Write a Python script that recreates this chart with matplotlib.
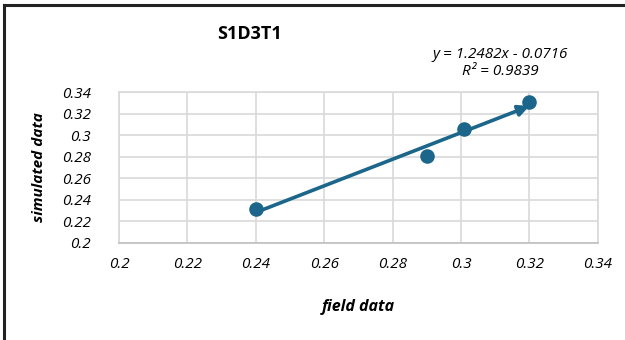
import numpy as np
import matplotlib
matplotlib.use("Agg")
import matplotlib.pyplot as plt
from matplotlib.lines import Line2D

# data
field_data = [0.24, 0.29, 0.301, 0.32]
simulated_data = [0.231, 0.281, 0.306, 0.331]
x_ticks = [0.2, 0.22, 0.24, 0.26, 0.28, 0.3, 0.32, 0.34]
y_ticks = [0.2, 0.22, 0.24, 0.26, 0.28, 0.3, 0.32, 0.34]
tick_labels = ["0.2", "0.22", "0.24", "0.26", "0.28", "0.3", "0.32", "0.34"]
eq_text = "y = 1.2482x - 0.0716\nR² = 0.9839"

blue = "#1b668a"
grid = "#d9d9d9"
font = "Open Sans"

fig = plt.figure(figsize=(6.25, 3.4), dpi=100)
ax = fig.add_axes([0.1904, 0.2862, 0.766, 0.4424])

ax.scatter(field_data, simulated_data, s=110, color=blue, zorder=4, linewidths=0)

# linear trendline with arrow head
slope, intercept = np.polyfit(field_data, simulated_data, 1)
x0, x1 = min(field_data), max(field_data)
ax.annotate("", xy=(x1, slope * x1 + intercept), xytext=(x0, slope * x0 + intercept),
            arrowprops=dict(arrowstyle="-|>", color=blue, lw=2.6,
                            mutation_scale=16, shrinkA=0, shrinkB=0), zorder=3)

ax.set_xlim(0.2, 0.34)
ax.set_ylim(0.2, 0.34)
ax.set_xticks(x_ticks)
ax.set_yticks(y_ticks)
ax.set_xticklabels(tick_labels, fontfamily=font, fontstyle="italic", fontsize=11)
ax.set_yticklabels(tick_labels, fontfamily=font, fontstyle="italic", fontsize=11)
ax.tick_params(length=0, pad=10)
ax.tick_params(axis="y", pad=20)
ax.grid(True, color=grid, lw=1.2)
ax.set_axisbelow(True)
for sp in ax.spines.values():
    sp.set_color(grid)
    sp.set_linewidth(1.2)
ax.spines["bottom"].set_color("#bfbfbf")

ax.set_xlabel("field data", fontfamily=font, fontstyle="italic", fontsize=11.5,
              fontweight="bold", labelpad=20)
ax.set_ylabel("simulated data", fontfamily=font, fontstyle="italic", fontsize=11,
              fontweight="bold", labelpad=12)

fig.text(0.40, 0.90, "S1D3T1", fontfamily=font, fontsize=13, fontweight="bold",
         ha="center", va="center")
fig.text(0.80, 0.815, eq_text, fontfamily=font, fontstyle="italic", fontsize=11,
         ha="center", va="center", linespacing=1.2)

# chart border (top and left visible)
fig.add_artist(Line2D([0.0064, 0.0064], [0, 0.985], transform=fig.transFigure,
                      color="#222222", lw=2.2))
fig.add_artist(Line2D([0.0064, 1], [0.985, 0.985], transform=fig.transFigure,
                      color="#222222", lw=2.2))

fig.savefig("out.png", dpi=100)
